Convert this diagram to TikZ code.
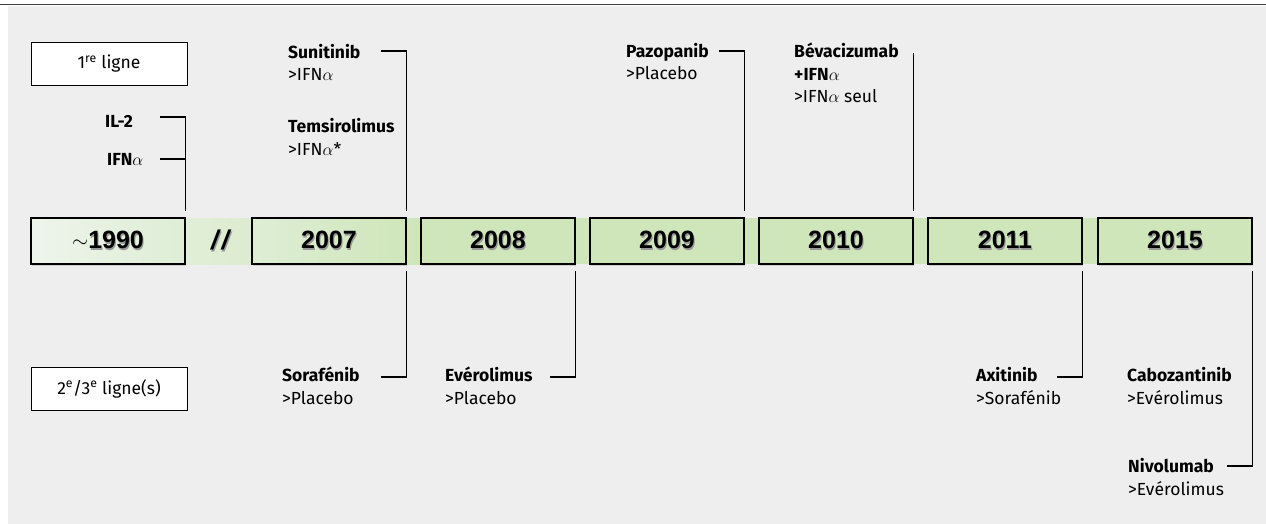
\documentclass[tikz,border=0pt]{standalone}
\usepackage{fontspec}
\setmainfont{Fira Sans}
\newfontfamily\yearfont{Liberation Sans}
\usetikzlibrary{shadows}
\definecolor{panel}{RGB}{238,238,238}
\definecolor{tlgreen}{RGB}{207,230,186}
\definecolor{tllight}{RGB}{238,244,235}
\definecolor{tlmid}{RGB}{222,238,213}
\newcommand\shtext[1]{\makebox[0pt][l]{\raisebox{-1.6pt}{\kern1pt\textcolor{black!40}{#1}}}#1}
\begin{document}
\begin{tikzpicture}[x=1pt,y=-1pt,
  yearbox/.style={draw=black, line width=1.1pt, minimum width=154pt, minimum height=46pt,
    inner sep=0pt, fill=tlgreen, font=\yearfont\bfseries\fontsize{25}{25}\selectfont,
    drop shadow={shadow xshift=0.8pt, shadow yshift=-2pt, opacity=0.3}},
  linebox/.style={draw=black, line width=0.6pt, fill=white, minimum width=156pt,
    minimum height=43pt, inner sep=0pt, font=\fontsize{17.5}{20}\selectfont},
  drug/.style={anchor=base west, inner sep=0pt, font=\bfseries\fontsize{17.5}{20}\selectfont},
  cmp/.style={anchor=base west, inner sep=0pt, font=\fontsize{17.5}{20}\selectfont},
  conn/.style={line width=1.5pt, black},
]
\useasboundingbox (0,0) rectangle (1266,524);
\fill[panel] (8,6) rectangle (1266,524);
\draw[line width=1.5pt, black!75] (0,4.5) -- (1266,4.5);

% strip
\shade[left color=tllight, right color=tlgreen] (31,218) rectangle (420,264);
\fill[tlgreen] (419,218) rectangle (1252,264);

% year boxes
\node[yearbox, left color=tllight, right color=tlmid] (y1990) at (108,241)
  {{\fontsize{21}{21}\selectfont\raisebox{1pt}{$\sim$}}\shtext{1990}};
\node[inner sep=0pt, font=\yearfont\bfseries\itshape\fontsize{27}{27}\selectfont] (sep) at (220,241) {\shtext{/\kern3pt/}};
\node[yearbox, left color=tlmid, right color=tlgreen] (y2007) at (329,241) {\shtext{2007}};
\node[yearbox] (y2008) at (498,241) {\shtext{2008}};
\node[yearbox] (y2009) at (667,241) {\shtext{2009}};
\node[yearbox] (y2010) at (836,241) {\shtext{2010}};
\node[yearbox] (y2011) at (1005,241) {\shtext{2011}};
\node[yearbox] (y2015) at (1175,241) {\shtext{2015}};

% line boxes
\node[linebox] (l1) at (109,63.5) {1\textsuperscript{re} ligne};
\node[linebox] (l2) at (109,388.5) {2\textsuperscript{e}/3\textsuperscript{e} ligne(s)};

% top labels
\node[drug] (il2) at (105,128) {IL-2};
\node[drug] (ifn) at (107,165) {IFN$\alpha$};
\node[drug] (sun) at (288,59) {Sunitinib};
\node[cmp] (sunc) at (288,80.5) {>IFN$\alpha$};
\node[drug] (tem) at (288,132) {Temsirolimus};
\node[cmp] (temc) at (288,155) {>IFN$\alpha$*};
\node[drug] (paz) at (626,58) {Pazopanib};
\node[cmp] (pazc) at (626,80) {>Placebo};
\node[drug] (bev) at (794,58) {Bévacizumab};
\node[drug] (bevb) at (794,80.5) {+IFN$\alpha$};
\node[cmp] (bevc) at (794,102.5) {>IFN$\alpha$ seul};

% bottom labels
\node[drug] (sor) at (282,381.5) {Sorafénib};
\node[cmp] (sorc) at (282,404) {>Placebo};
\node[drug] (eve) at (445,381.5) {Evérolimus};
\node[cmp] (evec) at (445,404) {>Placebo};
\node[drug] (axi) at (976,381.5) {Axitinib};
\node[cmp] (axic) at (976,404) {>Sorafénib};
\node[drug] (cab) at (1127,381.5) {Cabozantinib};
\node[cmp] (cabc) at (1127,404) {>Evérolimus};
\node[drug] (niv) at (1128,472.5) {Nivolumab};
\node[cmp] (nivc) at (1128,495) {>Evérolimus};

% connector end points at the boxes
\coordinate (t1990) at ([yshift=6pt]y1990.north east);
\coordinate (t2007) at ([yshift=6pt]y2007.north east);
\coordinate (t2009) at ([yshift=6pt]y2009.north east);
\coordinate (t2010) at ([yshift=6pt]y2010.north east);
\coordinate (b2007) at ([yshift=-6pt]y2007.south east);
\coordinate (b2008) at ([yshift=-6pt]y2008.south east);
\coordinate (b2011) at ([yshift=-6pt]y2011.south east);
\coordinate (b2015) at ([yshift=-6pt]y2015.south east);

% connector free ends
\coordinate (il2L) at (160,117);
\coordinate (ifnL) at (160,159);
\coordinate (sunL) at (381,51);
\coordinate (pazL) at (719,51);
\coordinate (bevT) at (913,53);
\coordinate (sorL) at (381,377);
\coordinate (eveL) at (550,377);
\coordinate (axiL) at (1057,377);
\coordinate (nivL) at (1227,466);

\draw[conn] (il2L) -| (t1990);
\draw[conn] (ifnL) -- (ifnL -| t1990);
\draw[conn] (sunL) -| (t2007);
\draw[conn] (pazL) -| (t2009);
\draw[conn] (bevT -| t2010) -- (t2010);
\draw[conn] (sorL) -| (b2007);
\draw[conn] (eveL) -| (b2008);
\draw[conn] (axiL) -| (b2011);
\draw[conn] (nivL) -| (b2015);
\end{tikzpicture}
\end{document}
